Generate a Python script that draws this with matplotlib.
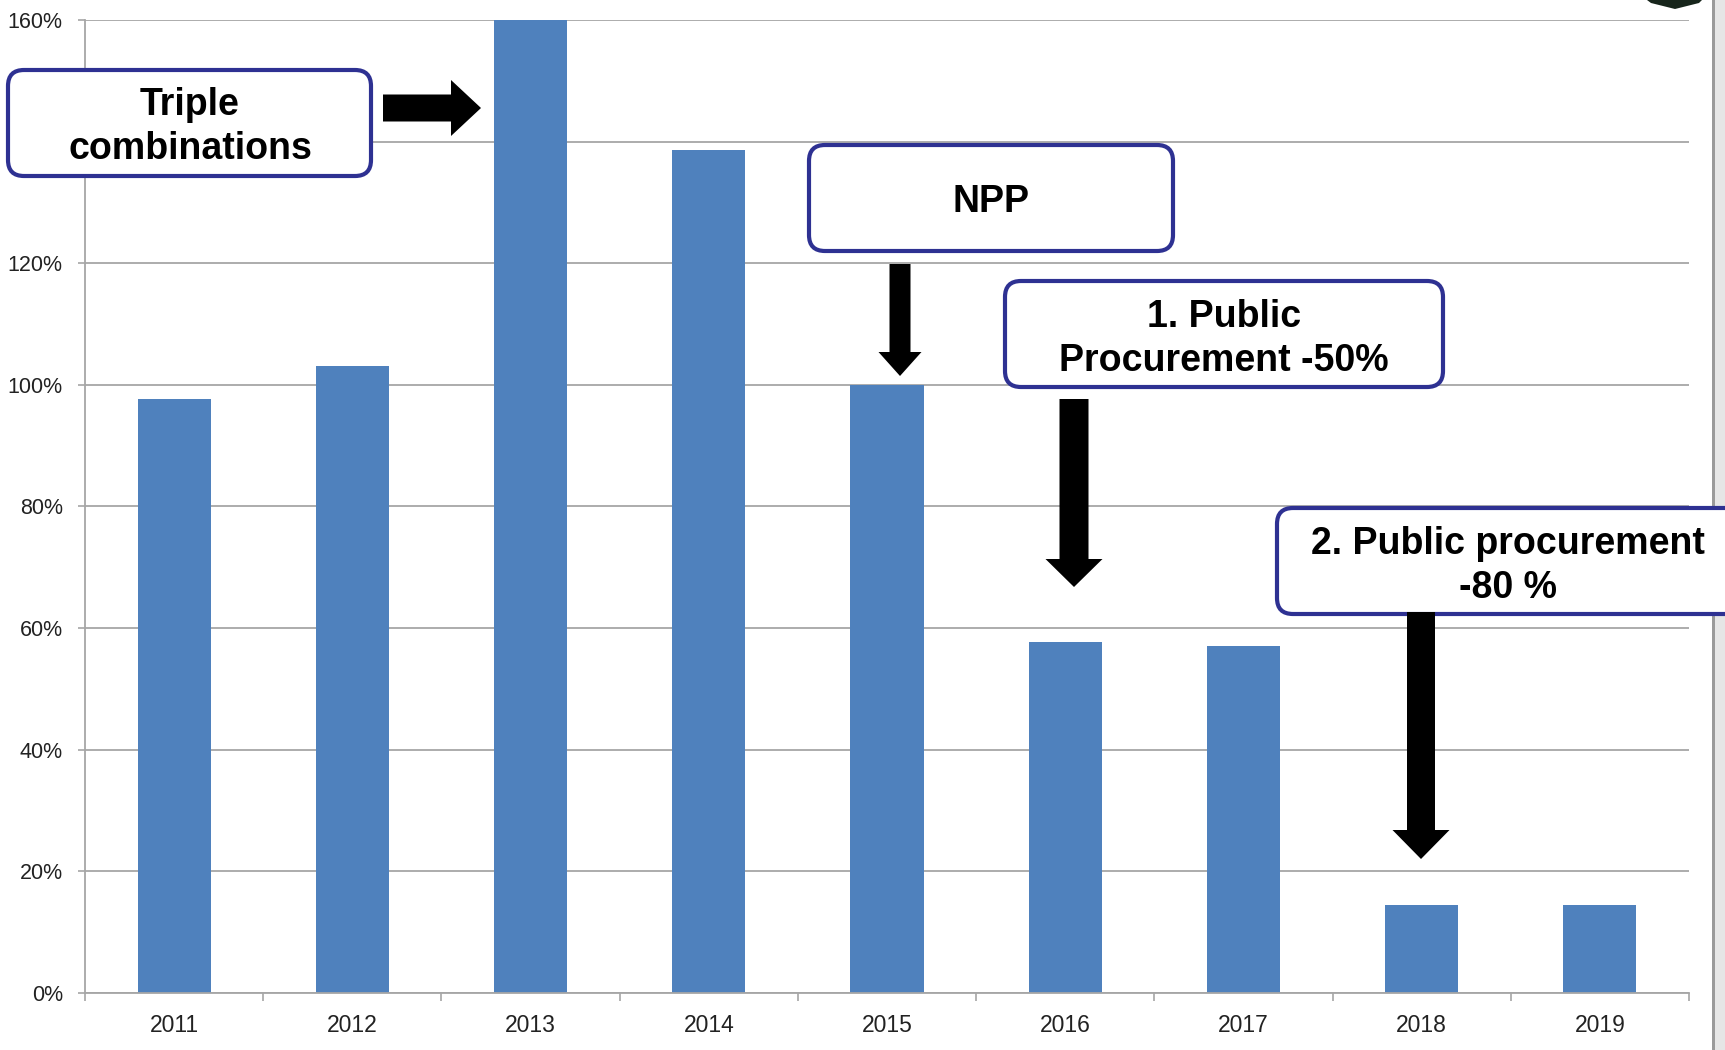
import matplotlib
matplotlib.use("Agg")
import matplotlib.pyplot as plt
from matplotlib.patches import FancyBboxPatch, Polygon, Rectangle
from matplotlib.transforms import Affine2D

years = ["2011", "2012", "2013", "2014", "2015", "2016", "2017", "2018", "2019"]
values = [97.6, 103.1, 160.0, 138.7, 100.0, 57.7, 57.0, 14.5, 14.5]
yticks = [0, 20, 40, 60, 80, 100, 120, 140, 160]
ytick_labels = [f"{v}%" for v in yticks]

W, H = 1725, 1050
fig = plt.figure(figsize=(W / 100, H / 100), dpi=100)
fig.patch.set_facecolor("white")

ax = fig.add_axes([85 / W, 57 / H, (1689 - 85) / W, (993 - 20) / H])
x = list(range(len(years)))
ax.bar(x, values, width=0.41, color="#4F81BD", zorder=2)
ax.set_xlim(-0.5, len(years) - 0.5)
ax.set_ylim(0, 160)
ax.set_yticks(yticks)
ax.set_yticklabels(ytick_labels)
ax.set_xticks(x)
ax.set_xticklabels(years)
ax.set_xticks([i - 0.5 for i in range(len(years) + 1)], minor=True)

fam = ["Liberation Sans", "DejaVu Sans"]
for lab in ax.get_xticklabels():
    lab.set_fontfamily(fam)
    lab.set_fontsize(16.5)
    lab.set_color("#222222")
for lab in ax.get_yticklabels():
    lab.set_fontfamily(fam)
    lab.set_fontsize(15.5)
    lab.set_color("#222222")

ax.tick_params(axis="x", which="major", length=0, pad=15)
ax.tick_params(axis="x", which="minor", length=6, width=1.2, color="#a6a6a6")
ax.tick_params(axis="y", which="major", length=5, width=1.2, color="#a6a6a6", pad=11)
ax.yaxis.grid(True, color="#a6a6a6", lw=1.3, zorder=0)
ax.set_axisbelow(True)
for s in ["top", "right"]:
    ax.spines[s].set_visible(False)
for s in ["left", "bottom"]:
    ax.spines[s].set_color("#a6a6a6")
    ax.spines[s].set_linewidth(1.3)

# pixel transform (origin top-left)
pxT = Affine2D().scale(1 / W, -1 / H).translate(0, 1) + fig.transFigure

# right slide border strip
fig.patches.append(Rectangle((1712, 0), 13, H, transform=pxT, facecolor="#e6e6e6",
                             edgecolor="none", zorder=1))
fig.patches.append(Rectangle((1712, 0), 2.5, H, transform=pxT, facecolor="#9a9a9a",
                             edgecolor="none", zorder=1))
fig.patches.append(Polygon([(1647, 0), (1702, 0), (1699, 3), (1675, 9), (1651, 3)],
                           closed=True, transform=pxT, facecolor="#17251b",
                           edgecolor="none", zorder=1))

navy = "#2E3192"
ann_font = dict(family=fam, weight="bold", size=27, color="black")


def box(x0, y0, x1, y1, text, tx, ty):
    p = FancyBboxPatch((x0, y0), x1 - x0, y1 - y0,
                       boxstyle="round,pad=0,rounding_size=16",
                       transform=pxT, facecolor="white", edgecolor=navy,
                       linewidth=3, zorder=5)
    fig.patches.append(p)
    fig.text(tx, ty, text, transform=pxT, ha="center", va="center",
             linespacing=1.3, zorder=6, **ann_font)


def down_arrow(cx, y0, y1, shaft_w, head_w, head_len):
    pts = [(cx - shaft_w / 2, y0), (cx + shaft_w / 2, y0),
           (cx + shaft_w / 2, y1 - head_len), (cx + head_w / 2, y1 - head_len),
           (cx, y1), (cx - head_w / 2, y1 - head_len),
           (cx - shaft_w / 2, y1 - head_len)]
    fig.patches.append(Polygon(pts, closed=True, transform=pxT, facecolor="black",
                               edgecolor="none", zorder=5))


def right_arrow(x0, x1, cy, shaft_w, head_w, head_len):
    pts = [(x0, cy - shaft_w / 2), (x1 - head_len, cy - shaft_w / 2),
           (x1 - head_len, cy - head_w / 2), (x1, cy),
           (x1 - head_len, cy + head_w / 2), (x1 - head_len, cy + shaft_w / 2),
           (x0, cy + shaft_w / 2)]
    fig.patches.append(Polygon(pts, closed=True, transform=pxT, facecolor="black",
                               edgecolor="none", zorder=5))


box(8, 70, 371, 176, "Triple\ncombinations", 190, 127)
right_arrow(383, 481, 108, 27, 56, 30)

box(809, 145, 1173, 251, "NPP", 991, 202)
down_arrow(900, 264, 376, 21, 43, 24)

box(1005, 281, 1443, 387, "1. Public\nProcurement -50%", 1224, 339)
down_arrow(1074, 399, 587, 29, 57, 28)

box(1277, 508, 1742, 614, "2. Public procurement\n-80 %", 1508, 566)
down_arrow(1421, 612, 859, 28, 57, 29)

fig.savefig("out.png", dpi=100)
